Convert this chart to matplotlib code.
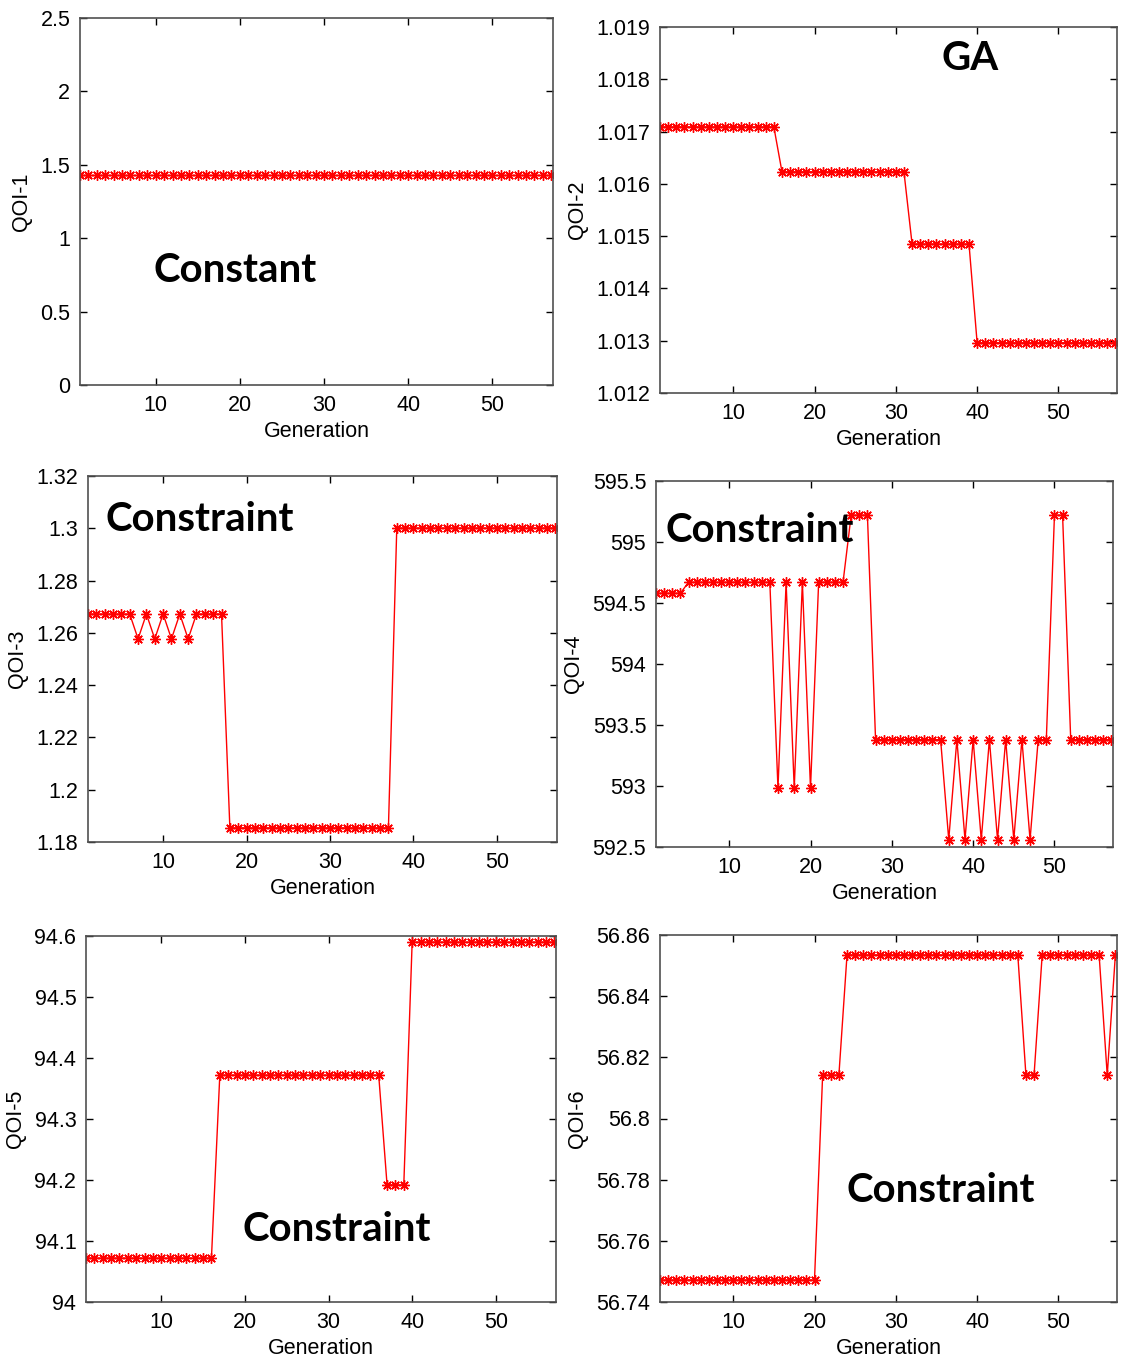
import numpy as np
import matplotlib
matplotlib.use('Agg')
import matplotlib.pyplot as plt
from matplotlib.ticker import FuncFormatter

plt.rcParams['font.family'] = ['Liberation Sans', 'DejaVu Sans']

# Generations 1..57
generation = np.arange(1, 58)

# QOI values per generation
qoi1 = [1.43] * 57
qoi2 = [1.01709] * 15 + [1.01623] * 16 + [1.01485] * 8 + [1.01296] * 18
qoi3 = ([1.2672] * 6 + [1.2577, 1.2672, 1.2577, 1.2672, 1.2577, 1.2672, 1.2577]
        + [1.2672] * 4 + [1.1854] * 20 + [1.3001] * 20)
qoi4 = ([594.58] * 4 + [594.67] * 11
        + [592.98, 594.67, 592.98, 594.67, 592.98]
        + [594.67] * 4 + [595.22] * 3 + [593.38] * 9
        + [592.56, 593.38, 592.56, 593.38, 592.56, 593.38,
           592.56, 593.38, 592.56, 593.38, 592.56]
        + [593.38] * 2 + [595.22] * 2 + [593.38] * 6)
qoi5 = [94.072] * 16 + [94.372] * 20 + [94.192] * 3 + [94.590] * 18
qoi6 = ([56.7472] * 20 + [56.8142] * 3 + [56.8535] * 22 + [56.8142] * 2
        + [56.8535] * 8 + [56.8142] + [56.8535])

series = [qoi1, qoi2, qoi3, qoi4, qoi5, qoi6]
ylabels = ['QOI-1', 'QOI-2', 'QOI-3', 'QOI-4', 'QOI-5', 'QOI-6']
ylims = [(0, 2.5), (1.012, 1.019), (1.18, 1.32), (592.5, 595.5), (94, 94.6), (56.74, 56.86)]
ysteps = [0.5, 0.001, 0.02, 0.5, 0.1, 0.02]
notes = ['Constant', 'GA', 'Constraint', 'Constraint', 'Constraint', 'Constraint']
note_pos = [(0.328, 0.313), (0.678, 0.915), (0.239, 0.88), (0.228, 0.866), (0.534, 0.197), (0.615, 0.305)]

# axes boxes in pixels: left, right, top, bottom
W, H = 1122, 1359
boxes = [(80, 553, 18, 385), (660, 1117, 27, 393),
         (88, 557, 476, 842), (656, 1113, 481, 847),
         (86, 556, 936, 1302), (660, 1117, 935, 1302)]

fig = plt.figure(figsize=(W / 100, H / 100), dpi=100)

fmt = FuncFormatter(lambda v, p: f'{round(v, 4):g}')

for i in range(6):
    l, r, t, b = boxes[i]
    ax = fig.add_axes([l / W, (H - b) / H, (r - l) / W, (b - t) / H])
    ax.plot(generation, series[i], color='red', lw=1.0,
            marker=(8, 2, 0), markersize=7.5, markeredgewidth=1.0)
    ax.set_xlim(1, 57.2)
    lo, hi = ylims[i]
    ax.set_ylim(lo, hi)
    ax.set_xticks([10, 20, 30, 40, 50])
    ax.set_yticks(np.arange(lo, hi + ysteps[i] / 2, ysteps[i]))
    ax.yaxis.set_major_formatter(fmt)
    ax.tick_params(direction='in', length=5, width=1, labelsize=15.5,
                   top=True, right=True, pad=7)
    for s in ax.spines.values():
        s.set_color('#505050')
        s.set_linewidth(1.2)
    ax.set_xlabel('Generation', fontsize=15.5, labelpad=4)
    ax.set_ylabel(ylabels[i], fontsize=15.5, labelpad=6)
    ax.text(note_pos[i][0], note_pos[i][1], notes[i], transform=ax.transAxes,
            fontsize=29, fontweight='bold', family='Lato',
            ha='center', va='center')

fig.savefig('out.png', dpi=100)
